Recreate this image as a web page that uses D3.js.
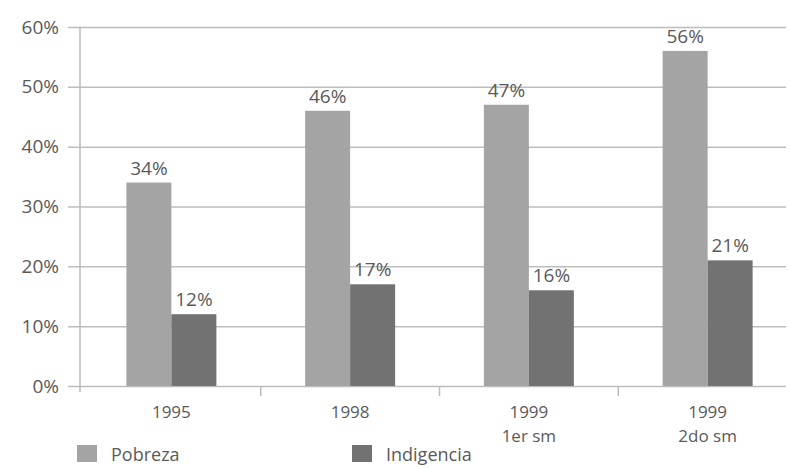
<!DOCTYPE html>
<html>
<head>
<meta charset="utf-8">
<script src="https://cdn.jsdelivr.net/npm/d3@7"></script>
<style>
  body { margin: 0; background: #fff; }
  text { font-family: "Open Sans", "Noto Sans", sans-serif; fill: #5a5a5a; }
</style>
</head>
<body>
<script>
(function(){
    var categories = ["1995", "1998", "1999 1er sm", "1999 2do sm"];
    var catLine1 = ["1995", "1998", "1999", "1999"]; //first label line
    var catLine2 = ["", "", "1er sm", "2do sm"];   //second label line
    var pobreza = [34, 46, 47, 56];
    var indigencia = [12, 17, 16, 21];
    var yTicks = [0, 10, 20, 30, 40, 50, 60];
    var seriesNames = ["Pobreza", "Indigencia"];
    var seriesColors = ["#a4a4a4", "#727272"];

    var width = 790, height = 468;

    var svg = d3.select("body")
        .append("svg")
        .attr("width", width)
        .attr("height", height);

    var yScale = d3.scaleLinear()
        .domain([0, 60])
        .range([386, 27]);

    var xScale = d3.scaleBand()
        .domain(categories)
        .range([82, 797]);

    var inner = d3.scaleBand()
        .domain([0, 1])
        .range([0, 90]);

    //horizontal gridlines with tick labels
    var yAxis = d3.axisLeft(yScale)
        .tickValues(yTicks)
        .tickFormat(function(d){ return d + "%"; })
        .tickSize(-(786 - 68))
        .tickPadding(9);

    var axis = svg.append("g")
        .attr("transform", "translate(68,0)")
        .call(yAxis);
    axis.select(".domain").remove();
    axis.selectAll("line").attr("stroke", "#bdbdbd").attr("stroke-width", 1.5);
    axis.selectAll("text").style("font-size", "19px").attr("fill", "#5a5a5a");

    //vertical axis line
    svg.append("line")
        .attr("x1", 80).attr("x2", 80)
        .attr("y1", yScale(60)).attr("y2", yScale(0) + 6)
        .attr("stroke", "#bdbdbd").attr("stroke-width", 1.5);

    //category divider ticks
    categories.slice(1).forEach(function(c){
        svg.append("line")
            .attr("x1", xScale(c)).attr("x2", xScale(c))
            .attr("y1", yScale(0)).attr("y2", yScale(0) + 10)
            .attr("stroke", "#bdbdbd").attr("stroke-width", 1.5);
    });

    var series = [pobreza, indigencia];

    function barX(i, s){
        return xScale(categories[i]) + xScale.bandwidth() / 2 - 45 + inner(s);
    }

    series.forEach(function(vals, s){
        var g = svg.append("g");
        g.selectAll("rect")
            .data(vals)
            .enter()
            .append("rect")
            .attr("x", function(d, i){ return barX(i, s); })
            .attr("width", inner.bandwidth())
            .attr("y", function(d){ return yScale(d); })
            .attr("height", function(d){ return yScale(0) - yScale(d); })
            .attr("fill", seriesColors[s]);

        g.selectAll("text")
            .data(vals)
            .enter()
            .append("text")
            .attr("x", function(d, i){ return barX(i, s) + inner.bandwidth() / 2; })
            .attr("y", function(d){ return yScale(d) - 8; })
            .attr("text-anchor", "middle")
            .style("font-size", "19px")
            .text(function(d){ return d + "%"; });
    });

    //category labels, two lines
    [catLine1, catLine2].forEach(function(lines, k){
        svg.selectAll(".cat" + k)
            .data(lines)
            .enter()
            .append("text")
            .attr("class", "cat" + k)
            .attr("text-anchor", "middle")
            .attr("x", function(d, i){ return xScale(categories[i]) + xScale.bandwidth() / 2; })
            .attr("y", k === 0 ? 418 : 442)
            .style("font-size", "17px")
            .text(function(d){ return d; });
    });

    //legend
    var legendX = [77, 352];
    seriesNames.forEach(function(name, s){
        svg.append("rect")
            .attr("x", legendX[s])
            .attr("y", 445)
            .attr("width", 20)
            .attr("height", 17)
            .attr("fill", seriesColors[s]);
        svg.append("text")
            .attr("x", legendX[s] + 34)
            .attr("y", 461)
            .style("font-size", "18px")
            .text(name);
    });
})();
</script>
</body>
</html>
